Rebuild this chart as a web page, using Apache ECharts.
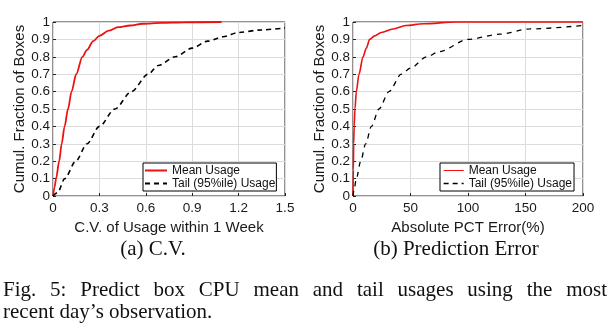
<!DOCTYPE html>
<html>
<head>
<meta charset="utf-8">
<script src="https://cdn.jsdelivr.net/npm/echarts@6/dist/echarts.min.js"></script>
<style>
  html, body { margin: 0; padding: 0; background: #fff; }
  #chart { width: 613px; height: 332px; }
</style>
</head>
<body>
<div id="chart"></div>
<script>
// (a) coefficient of variation of usage within one week: [C.V., cumulative fraction]
const cvMean = [
  [0, 0], [0.01, 0.05], [0.02, 0.1], [0.04, 0.2], [0.056, 0.3], [0.075, 0.4],
  [0.097, 0.5], [0.12, 0.6], [0.15, 0.7], [0.19, 0.8], [0.22, 0.84], [0.26, 0.89],
  [0.3, 0.92], [0.36, 0.95], [0.42, 0.97], [0.5, 0.98], [0.58, 0.99], [0.7, 0.995],
  [0.85, 0.998], [1.09, 1.0]
];
const cvTail = [
  [0, 0], [0.03, 0.02], [0.076, 0.1], [0.147, 0.2], [0.22, 0.3], [0.3, 0.4],
  [0.4, 0.5], [0.507, 0.6], [0.615, 0.7], [0.68, 0.75], [0.79, 0.8], [0.9, 0.85],
  [1.0, 0.89], [1.1, 0.915], [1.2, 0.94], [1.35, 0.955], [1.5, 0.966]
];

// (b) absolute prediction error in percent: [error %, cumulative fraction]
const errMean = [
  [0, 0], [0.3, 0.15], [0.6, 0.3], [1.0, 0.4], [1.7, 0.5], [2.9, 0.6], [5.2, 0.7],
  [8.7, 0.8], [11.6, 0.85], [14.5, 0.9], [18.8, 0.92], [24.6, 0.94], [34.8, 0.96],
  [46, 0.98], [61, 0.99], [90, 1.0], [200, 1.0]
];
const errTail = [
  [0, 0], [1, 0.04], [2.9, 0.1], [6.7, 0.2], [11, 0.3], [16, 0.4], [22.6, 0.5],
  [31.3, 0.6], [42, 0.7], [50, 0.735], [64, 0.8], [75, 0.83], [100, 0.9],
  [127.5, 0.93], [153.6, 0.96], [200, 0.98]
];

const seriesNames = ['Mean Usage', 'Tail (95%ile) Usage'];
const yTitle = 'Cumul. Fraction of Boxes';
const xTitles = ['C.V. of Usage within 1 Week', 'Absolute PCT Error(%)'];
const subCaptions = ['(a) C.V.', '(b) Prediction Error'];
const captionLine1 = 'Fig. 5: Predict box CPU mean and tail usages using the most';
const captionLine2 = 'recent day\u2019s observation.';

const SANS = '"Liberation Sans", Arial, Helvetica, sans-serif';
const SERIF = '"Liberation Serif", "Times New Roman", serif';
const RED = '#ee1111';
const INK = '#1a1a1a';

function xAxisOf(gridIndex, max, interval, title) {
  return {
    type: 'value', gridIndex, min: 0, max, interval,
    name: title, nameLocation: 'middle', nameGap: 17,
    nameTextStyle: { fontFamily: SANS, fontSize: 15, color: INK },
    axisLine: { show: false },
    axisTick: { show: true, inside: true, length: 3, lineStyle: { color: '#222' } },
    axisLabel: { fontFamily: SANS, fontSize: 13.5, color: INK, margin: 5 },
    splitLine: { show: true, lineStyle: { color: '#dcdcdc', width: 1 } }
  };
}
function yAxisOf(gridIndex) {
  return {
    type: 'value', gridIndex, min: 0, max: 1, interval: 0.1,
    name: yTitle, nameLocation: 'middle', nameGap: 25, nameRotate: 90,
    nameTextStyle: { fontFamily: SANS, fontSize: 15, color: INK },
    axisLine: { show: false },
    axisTick: { show: true, inside: true, length: 3, lineStyle: { color: '#222' } },
    axisLabel: {
      fontFamily: SANS, fontSize: 13.5, color: INK, margin: 3,
      formatter: v => (v === 0 || v === 1) ? String(v) : v.toFixed(1)
    },
    splitLine: { show: true, lineStyle: { color: '#dcdcdc', width: 1 } }
  };
}

// Full-justified first caption line: spread words over the available width
function justifiedWords(text, left, right, y, fontSize) {
  const ctx = document.createElement('canvas').getContext('2d');
  ctx.font = fontSize + 'px ' + SERIF;
  const words = text.split(' ');
  const widths = words.map(w => ctx.measureText(w).width);
  const total = widths.reduce((a, b) => a + b, 0);
  const gap = (right - left - total) / (words.length - 1);
  let x = left;
  return words.map((w, i) => {
    const el = {
      type: 'text', x, y,
      style: { text: w, fontFamily: SERIF, fontSize, fill: '#111',
               textAlign: 'left', textVerticalAlign: 'middle' }
    };
    x += widths[i] + gap;
    return el;
  });
}

const chart = echarts.init(document.getElementById('chart'), null, { renderer: 'canvas' });

const legendCommon = {
  orient: 'vertical', itemGap: 0, itemHeight: 13,
  borderColor: '#000', borderWidth: 1, backgroundColor: '#fff',
  textStyle: { fontFamily: SANS, fontSize: 12, color: '#111', lineHeight: 13 },
  selectedMode: false
};
const noMarker = { opacity: 0 };

chart.setOption({
  animation: false,
  backgroundColor: '#fff',
  grid: [
    { left: 53, top: 22, width: 232, height: 174, show: true, borderColor: '#222', borderWidth: 1, backgroundColor: '#fff' },
    { left: 353, top: 22, width: 230, height: 174, show: true, borderColor: '#222', borderWidth: 1, backgroundColor: '#fff' }
  ],
  xAxis: [xAxisOf(0, 1.5, 0.3, xTitles[0]), xAxisOf(1, 200, 50, xTitles[1])],
  yAxis: [yAxisOf(0), yAxisOf(1)],
  legend: [
    Object.assign({}, legendCommon, {
      left: 143, top: 163, padding: [1, 1, 1, 1], itemWidth: 22,
      data: [
        { name: seriesNames[0], lineStyle: { width: 2 }, itemStyle: noMarker },
        { name: seriesNames[1], lineStyle: { width: 2 }, itemStyle: noMarker }
      ]
    }),
    Object.assign({}, legendCommon, {
      left: 440, top: 163, padding: [1, 2, 1, 3], itemWidth: 20,
      data: [
        { name: seriesNames[0], lineStyle: { width: 1 }, itemStyle: noMarker },
        { name: seriesNames[1], lineStyle: { width: 1.3 }, itemStyle: noMarker }
      ]
    })
  ],
  series: [
    { name: seriesNames[0], type: 'line', xAxisIndex: 0, yAxisIndex: 0, data: cvMean,
      symbol: 'none', smooth: 0.3, smoothMonotone: 'x', lineStyle: { color: RED, width: 1.8 }, itemStyle: { color: RED } },
    { name: seriesNames[1], type: 'line', xAxisIndex: 0, yAxisIndex: 0, data: cvTail,
      symbol: 'none', smooth: 0.3, smoothMonotone: 'x', lineStyle: { color: '#000', width: 1.6, type: [5, 4] }, itemStyle: { color: '#000' } },
    { name: seriesNames[0], type: 'line', xAxisIndex: 1, yAxisIndex: 1, data: errMean,
      symbol: 'none', smooth: 0.3, smoothMonotone: 'x', lineStyle: { color: RED, width: 1.6 }, itemStyle: { color: RED } },
    { name: seriesNames[1], type: 'line', xAxisIndex: 1, yAxisIndex: 1, data: errTail,
      symbol: 'none', smooth: 0.3, smoothMonotone: 'x', lineStyle: { color: '#000', width: 1.3, type: [5, 5] }, itemStyle: { color: '#000' } }
  ],
  graphic: [
    { type: 'text', x: 153, y: 249,
      style: { text: subCaptions[0], fontFamily: SERIF, fontSize: 21, fill: '#111', textAlign: 'center', textVerticalAlign: 'middle' } },
    { type: 'text', x: 456, y: 249,
      style: { text: subCaptions[1], fontFamily: SERIF, fontSize: 21, fill: '#111', textAlign: 'center', textVerticalAlign: 'middle' } },
    ...justifiedWords(captionLine1, 3, 607, 290, 21),
    { type: 'text', x: 3, y: 312,
      style: { text: captionLine2, fontFamily: SERIF, fontSize: 21, fill: '#111', textAlign: 'left', textVerticalAlign: 'middle' } }
  ]
});
</script>
</body>
</html>
